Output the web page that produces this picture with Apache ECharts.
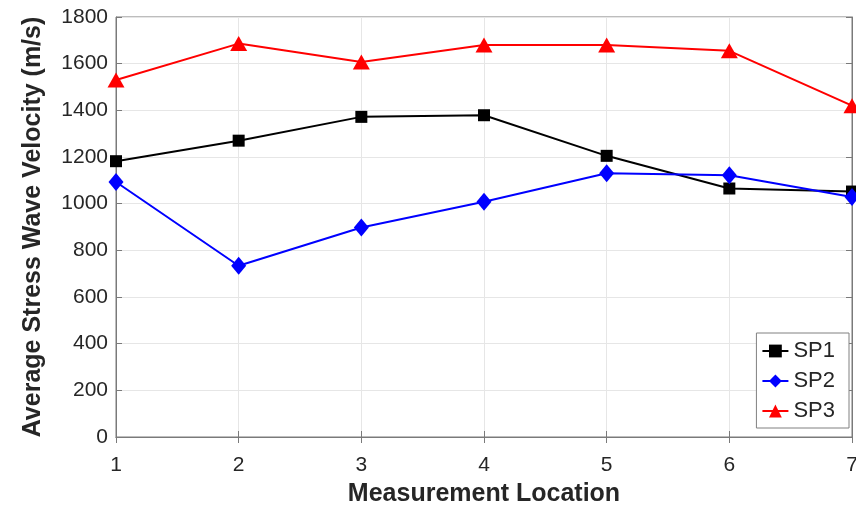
<!DOCTYPE html>
<html>
<head>
<meta charset="utf-8">
<script src="https://cdn.jsdelivr.net/npm/echarts@6/dist/echarts.min.js"></script>
<style>html,body{margin:0;padding:0;background:#fff}#c{width:856px;height:505px}</style>
</head>
<body>
<div id="c"></div>
<script>
var locations = [1, 2, 3, 4, 5, 6, 7];
var sp1 = [1182, 1270, 1372, 1379, 1205, 1065, 1052];
var sp2 = [1093, 734, 898, 1008, 1130, 1122, 1029];
var sp3 = [1530, 1686, 1607, 1680, 1680, 1655, 1420];
var seriesNames = ['SP1', 'SP2', 'SP3'];
var xTitle = 'Measurement Location';
var yTitle = 'Average Stress Wave Velocity (m/s)';

function pairs(vals) { return locations.map(function (x, i) { return [x, vals[i]]; }); }
function plain(v) { return String(v); }

var font = 'Liberation Sans, Arial, Helvetica, sans-serif';
var axisColor = '#7a7a7a';
var textColor = '#262626';
var chart = echarts.init(document.getElementById('c'), null, { renderer: 'canvas' });
chart.setOption({
  animation: false,
  backgroundColor: '#fff',
  textStyle: { fontFamily: font },
  grid: { left: 116, right: 4, top: 17, bottom: 68, show: true, borderColor: axisColor, borderWidth: 1, containLabel: false, outerBoundsMode: 'none' },
  legend: {
    orient: 'vertical', right: 7, top: 333,
    data: seriesNames,
    backgroundColor: '#fff', borderColor: '#808080', borderWidth: 1,
    padding: [7, 14, 6, 5], itemGap: 8, itemWidth: 26, itemHeight: 16,
    textStyle: { fontSize: 22, color: textColor, fontFamily: font }
  },
  xAxis: [{
    type: 'value', min: 1, max: 7, interval: 1,
    name: xTitle, nameLocation: 'middle', nameGap: 45,
    nameTextStyle: { fontSize: 25, fontWeight: 'bold', color: textColor, fontFamily: font },
    axisLine: { show: true, lineStyle: { color: axisColor, width: 1 } },
    axisTick: { show: true, inside: true, length: 6, lineStyle: { color: axisColor } },
    axisLabel: { fontSize: 21, color: textColor, margin: 18, fontFamily: font, formatter: plain },
    splitLine: { show: true, lineStyle: { color: '#e6e6e6', width: 1 } }
  }, {
    type: 'value', min: 1, max: 7, interval: 1, position: 'top',
    axisLine: { show: true, lineStyle: { color: axisColor } },
    axisTick: { show: true, inside: true, length: 6, lineStyle: { color: axisColor } },
    axisLabel: { show: false }, splitLine: { show: false }
  }],
  yAxis: [{
    type: 'value', min: 0, max: 1800, interval: 200,
    name: yTitle, nameLocation: 'middle', nameGap: 70,
    nameTextStyle: { fontSize: 25, fontWeight: 'bold', color: textColor, fontFamily: font },
    axisLine: { show: true, lineStyle: { color: axisColor, width: 1 } },
    axisTick: { show: true, inside: true, length: 6, lineStyle: { color: axisColor } },
    axisLabel: { fontSize: 21, color: textColor, margin: 8, fontFamily: font, formatter: plain },
    splitLine: { show: true, lineStyle: { color: '#e6e6e6', width: 1 } }
  }, {
    type: 'value', min: 0, max: 1800, interval: 200, position: 'right',
    axisLine: { show: true, lineStyle: { color: axisColor } },
    axisTick: { show: true, inside: true, length: 6, lineStyle: { color: axisColor } },
    axisLabel: { show: false }, splitLine: { show: false }
  }],
  series: [{
    name: seriesNames[0], type: 'line', data: pairs(sp1),
    symbol: 'rect', symbolSize: 12,
    lineStyle: { color: '#000', width: 2 }, itemStyle: { color: '#000' }
  }, {
    name: seriesNames[1], type: 'line', data: pairs(sp2),
    symbol: 'diamond', symbolSize: [15, 18],
    lineStyle: { color: '#0000ff', width: 2 }, itemStyle: { color: '#0000ff' }
  }, {
    name: seriesNames[2], type: 'line', data: pairs(sp3),
    symbol: 'triangle', symbolSize: [17, 15],
    lineStyle: { color: '#ff0000', width: 2 }, itemStyle: { color: '#ff0000' }
  }]
});
</script>
</body>
</html>
